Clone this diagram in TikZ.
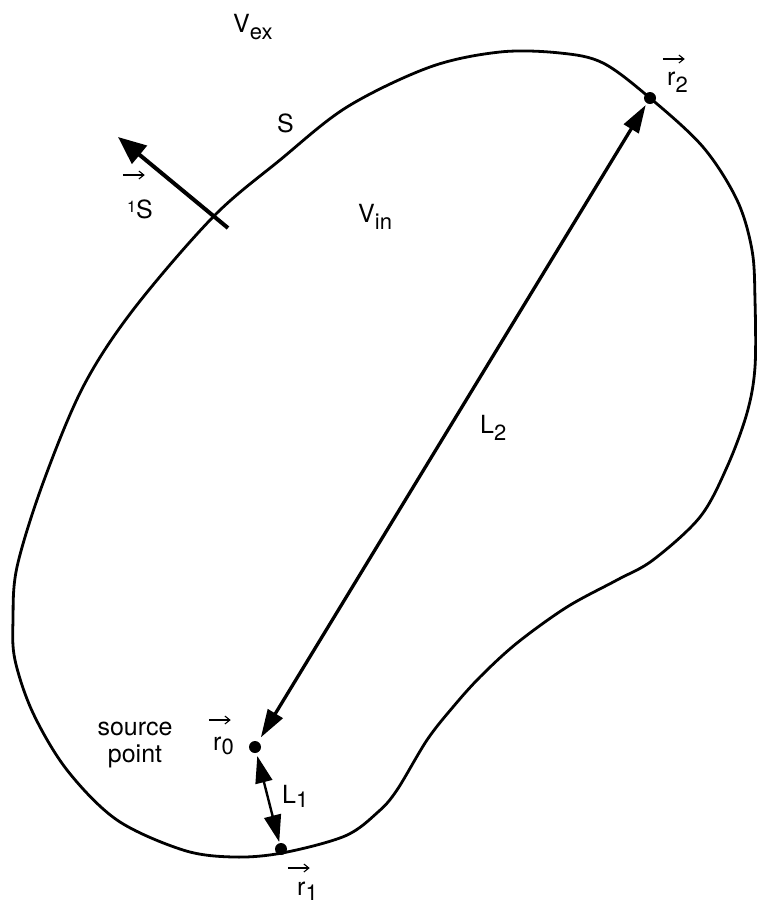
\documentclass[tikz,border=0pt]{standalone}
\usepackage{fontspec}
\setmainfont{TeX Gyre Heros}
\usetikzlibrary{arrows.meta}
\newcommand{\subx}[2][-7pt]{\raisebox{#1}{\fontsize{22}{22}\selectfont #2}}
\newcommand{\varrow}{\tikz[baseline=0pt]\draw[line width=1.1pt,-{Straight Barb[length=5pt,width=8pt]}] (0pt,0pt) -- (22pt,0pt);}
\newcommand{\vecl}[3]{\hspace*{-#1}\rlap{\raisebox{#2}{\varrow}}\hspace*{#1}#3}
\begin{document}
\begin{tikzpicture}[x=1pt,y=-1pt,
  lbl/.style={anchor=base west, inner sep=0pt, font=\fontsize{25}{28}\selectfont},
  dot/.style={circle, fill=black, inner sep=0pt, minimum size=12pt},
  outline/.style={line width=2.8pt, line join=round},
  distline/.style={line width=3.3pt, {Triangle[length=28pt,width=17pt]}-{Triangle[length=28pt,width=17pt]}},
  shortline/.style={line width=2.4pt, {Triangle[length=27pt,width=17pt]}-{Triangle[length=27pt,width=17pt]}},
  normalarrow/.style={line width=4pt, -{Triangle[length=28pt,width=23pt]}}]
\useasboundingbox (0,0) rectangle (756,903);
% surface S
\draw[outline] plot[smooth cycle, tension=0.55] coordinates {
 (213,217) (280,160) (347,107) (430,67) (500,52) (560,53) (603,63) (650,98)
 (703,147) (737,200) (752,250) (755,300) (755,367) (747,413) (727,467) (700,517)
 (653,560) (617,580) (567,607) (517,643) (480,677) (453,707) (427,740) (397,790)
 (378,812) (345,836) (282,853) (233,857) (183,850) (117,820) (67,770) (33,713)
 (15,660) (13,620) (17,567) (43,483) (83,387) (133,310)};
% normal vector
\coordinate (nbase) at (228,228);
\coordinate (ntip) at (118,137);
\draw[normalarrow] (nbase) -- (ntip);
% points
\node[dot] (r0) at (255,747) {};
\node[dot] (r2) at (650,98) {};
\node[dot] (r1) at (281,849) {};
% distances
\draw[distline, shorten <=5pt, shorten >=2pt] (r0) -- (r2);
\draw[shortline, shorten <=3pt, shorten >=1pt] (r0) -- (r1);
% labels
\node[lbl] (vex) at (233,32) {V\subx{ex}};
\node[lbl] (slab) at (277,132) {S};
\node[lbl] (vin) at (358,222) {V\subx{in}};
\node[lbl] (nlab) at (127,218) {\vecl{5pt}{43pt}{\raisebox{6pt}{\fontsize{16}{16}\selectfont 1}S}};
\node[lbl] (r2lab) at (667,85) {\vecl{5pt}{26pt}{r\subx{2}}};
\node[lbl] (l2lab) at (480,433) {L\subx{2}};
\node[lbl] (r0lab) at (213,750) {\vecl{5pt}{30pt}{r\subx[-4pt]{0}}};
\node[lbl] (r1lab) at (297,895) {\vecl{10pt}{27pt}{r\subx[-5pt]{1}}};
\node[lbl] (l1lab) at (282,803) {L\subx[-4pt]{1}};
\node[anchor=center, inner sep=0pt, align=center, font=\fontsize{25}{27}\selectfont] (src) at (135,745) {source\\point};
\end{tikzpicture}
\end{document}
